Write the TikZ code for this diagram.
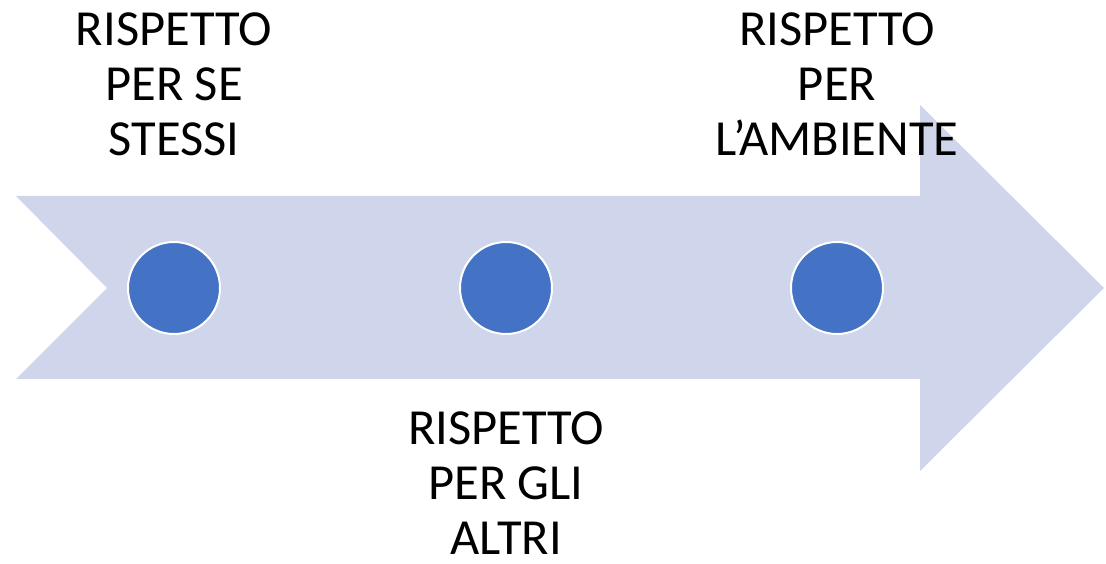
\documentclass[tikz,border=0pt]{standalone}
\usepackage{fontspec}
\setmainfont{Carlito}
\definecolor{arrowfill}{HTML}{CFD5EA}
\definecolor{dotfill}{HTML}{4472C4}
\tikzset{
  dot/.style={circle,fill=dotfill,draw=white,line width=2pt,minimum size=92pt,inner sep=0pt},
  lbl/.style={align=center,anchor=north,inner sep=0pt,font=\fontsize{50.5}{55}\selectfont,text=black}
}
\begin{document}
\begin{tikzpicture}[x=1pt,y=-1pt]
\useasboundingbox (0,0) rectangle (1106,564);
\fill[arrowfill] (16,196) -- (920,196) -- (920,105) -- (1104,288) -- (920,471) -- (920,379) -- (16,379) -- (107,288) -- cycle;
\node[dot] (d1) at (174,288) {};
\node[dot] (d2) at (506,288) {};
\node[dot] (d3) at (837,288) {};
\node[lbl] (t1) at (174,13) {RISPETTO\\PER SE\\STESSI};
\node[lbl] (t2) at (506,412) {RISPETTO\\PER GLI\\ALTRI};
\node[lbl] (t3) at (837,13) {RISPETTO\\PER\\L’AMBIENTE};
\end{tikzpicture}
\end{document}
